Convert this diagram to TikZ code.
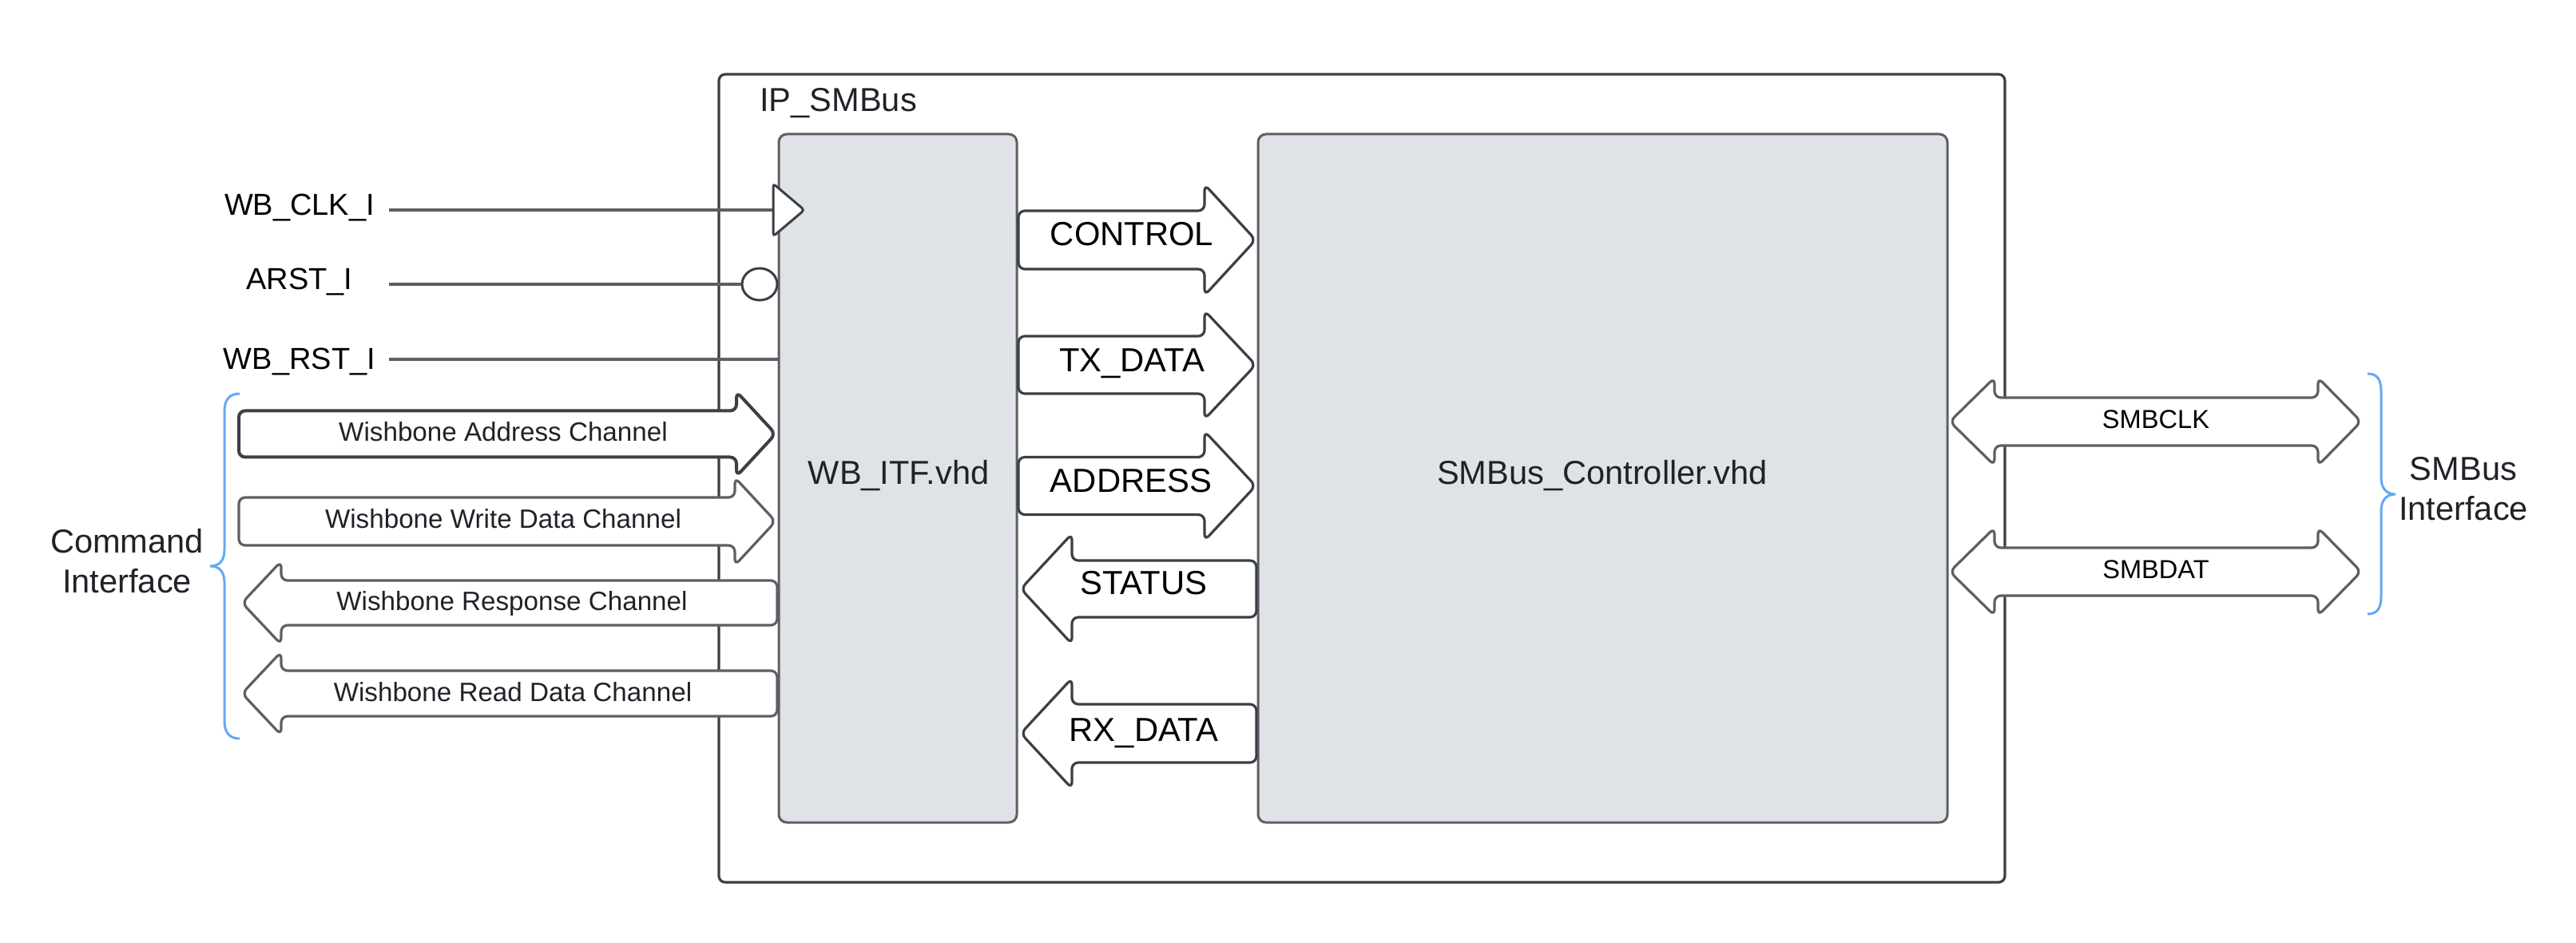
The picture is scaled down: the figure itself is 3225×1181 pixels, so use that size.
\documentclass[tikz,border=0pt]{standalone}
\usepackage{fontspec}
\usetikzlibrary{shapes.geometric}
\setmainfont{Liberation Sans}
\definecolor{dk}{HTML}{3B3F46}
\definecolor{gr}{HTML}{5E5F62}
\definecolor{boxf}{HTML}{DFE2E7}
\definecolor{txt}{HTML}{1F2328}
\definecolor{brc}{HTML}{64A8F6}
\newcommand{\RArrow}[7]{\draw[#1] (#2,#5-#6) -- (#3,#5-#6) -- (#3,#5-#7) -- (#4,#5) -- (#3,#5+#7) -- (#3,#5+#6) -- (#2,#5+#6) -- cycle;}
\newcommand{\LArrow}[7]{\draw[#1] (#2,#5) -- (#3,#5-#7) -- (#3,#5-#6) -- (#4,#5-#6) -- (#4,#5+#6) -- (#3,#5+#6) -- (#3,#5+#7) -- cycle;}
\newcommand{\DArrow}[8]{\draw[#1] (#2,#6) -- (#3,#6-#8) -- (#3,#6-#7) -- (#4,#6-#7) -- (#4,#6-#8) -- (#5,#6) -- (#4,#6+#8) -- (#4,#6+#7) -- (#3,#6+#7) -- (#3,#6+#8) -- cycle;}
\begin{document}
\begin{tikzpicture}[x=0.5pt,y=-0.5pt,
  outerst/.style={draw=dk, line width=1.6pt, rounded corners=4pt, inner sep=0pt, outer sep=0pt},
  boxst/.style={draw=gr, fill=boxf, line width=1.5pt, rounded corners=5pt, inner sep=0pt, outer sep=0pt},
  lbl/.style={text=txt, font=\fontsize{20.8}{24}\selectfont, inner sep=0pt, anchor=base},
  siglbl/.style={text=black, font=\fontsize{19}{23}\selectfont, inner sep=0pt, anchor=base},
  chlbl/.style={text=txt, font=\fontsize{16.6}{20}\selectfont, inner sep=0pt, anchor=base},
  smblbl/.style={text=black, font=\fontsize{16.3}{20}\selectfont, inner sep=0pt, anchor=base},
  midlbl/.style={text=black, font=\fontsize{20.9}{24}\selectfont, inner sep=0pt, anchor=base},
  sigline/.style={draw=gr, line width=1.6pt},
  darrow/.style={draw=dk, fill=white, line width=1.6pt, rounded corners=4pt},
  darrowthick/.style={draw=dk, fill=white, line width=2pt, rounded corners=4pt},
  garrow/.style={draw=gr, fill=white, line width=1.6pt, rounded corners=4pt},
  bracest/.style={draw=brc, line width=1.5pt}
]
\useasboundingbox (0,0) rectangle (3225,1181);
\fill[white] (0,0) rectangle (3225,1181);

% outer block
\node[outerst, minimum width=805pt, minimum height=506pt] (ip) at (1705,599) {};
\node[lbl, anchor=base west] (iplbl) at (951,140) {IP\_SMBus};

% inner blocks
\node[boxst, minimum width=149pt, minimum height=431pt] (itf) at (1124,599) {};
\node[boxst, minimum width=431.5pt, minimum height=431pt] (ctrl) at (2006.5,599) {};
\node[lbl] (itflbl) at (1125,607) {WB\_ITF.vhd};
\node[lbl] (ctrllbl) at (2006,607) {SMBus\_Controller.vhd};

% single signals
\node[siglbl] (clk) at (375,270) {WB\_CLK\_I};
\node[siglbl] (arst) at (375,363) {ARST\_I};
\node[siglbl] (rst) at (375,463) {WB\_RST\_I};
\coordinate (clkS) at (487,263);
\coordinate (arstS) at (487,356);
\coordinate (rstS) at (487,450);
\draw[sigline] (clkS) -- (clkS -| itf.west);
\draw[sigline] (rstS) -- (rstS -| itf.west);
\node[draw=dk, fill=white, line width=1.5pt, ellipse, minimum width=22pt, minimum height=20pt, inner sep=0pt] (rcirc) at (951,356) {};
\draw[sigline] (arstS) -- (rcirc.west);
\draw[draw=dk, fill=white, line width=1.5pt, rounded corners=2pt] (968,230) -- (1007,263) -- (968,296) -- cycle;

% command channels
\RArrow{darrowthick}{299}{922}{971}{543.5}{29}{53}
\RArrow{garrow}{299}{920}{971}{653}{30}{55}
\LArrow{garrow}{303}{352}{973}{755}{28}{52}
\LArrow{garrow}{303}{352}{973}{868.5}{28.5}{52}
\node[chlbl] (wba) at (630,553) {Wishbone Address Channel};
\node[chlbl] (wbw) at (630,662) {Wishbone Write Data Channel};
\node[chlbl] (wbr) at (641,765) {Wishbone Response Channel};
\node[chlbl] (wbd) at (642,878) {Wishbone Read Data Channel};

% internal arrows
\RArrow{darrow}{1275}{1508}{1572}{300.5}{36.5}{69.5}
\RArrow{darrow}{1275}{1508}{1572}{457}{36}{68}
\RArrow{darrow}{1275}{1508}{1572}{608.5}{36}{68.5}
\LArrow{darrow}{1278}{1342}{1573}{737.5}{35.5}{69}
\LArrow{darrow}{1278}{1342}{1573}{918.5}{36.5}{69}
\node[midlbl] (ctl) at (1417,308) {CONTROL};
\node[midlbl] (txd) at (1417,466) {TX\_DATA};
\node[midlbl] (adr) at (1416,617) {ADDRESS};
\node[midlbl] (sts) at (1432,745) {STATUS};
\node[midlbl] (rxd) at (1432,928) {RX\_DATA};

% SMBus arrows
\DArrow{garrow}{2441}{2497}{2902}{2956}{528}{30}{55}
\DArrow{garrow}{2441}{2497}{2902}{2956}{716}{30}{55}
\node[smblbl] (sclk) at (2699,537) {SMBCLK};
\node[smblbl] (sdat) at (2699,725) {SMBDAT};

% braces
\draw[bracest] (300,493) .. controls (288,493) and (281,500) .. (281,515) -- (281,688) .. controls (281,703) and (274,709) .. (263,709) .. controls (274,709) and (281,715) .. (281,730) -- (281,903) .. controls (281,918) and (288,925) .. (300,925);
\node[lbl] (cmd1) at (159,693) {Command};
\node[lbl] (cmd2) at (159,743) {Interface};

\draw[bracest] (2964,468) .. controls (2976,468) and (2981,475) .. (2981,490) -- (2981,598) .. controls (2981,612) and (2988,619) .. (2999,619) .. controls (2988,619) and (2981,626) .. (2981,640) -- (2981,747) .. controls (2981,762) and (2976,769) .. (2964,769);
\node[lbl] (smb1) at (3084,602) {SMBus};
\node[lbl] (smb2) at (3084,652) {Interface};
\end{tikzpicture}
\end{document}
